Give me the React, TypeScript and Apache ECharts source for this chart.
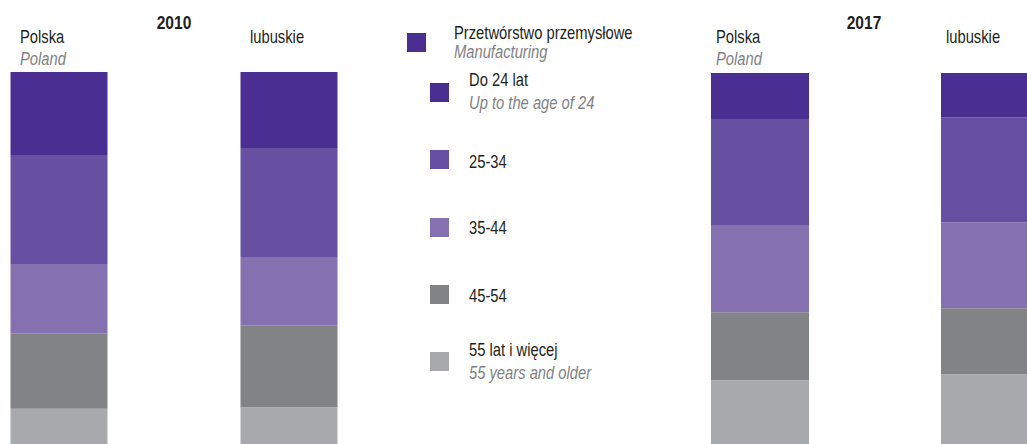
import React, { useEffect, useRef } from "react";
import * as echarts from "echarts";

// Data (percent shares of employment in manufacturing by age group)
const years = ["2010", "2017"];
const regions = ["Polska", "lubuskie"];
const regionsEn = ["Poland", ""];
const sectorTitle = "Przetwórstwo przemysłowe";
const sectorTitleEn = "Manufacturing";
const ageGroups = ["Do 24 lat", "25-34", "35-44", "45-54", "55 lat i więcej"];
const ageGroupsEn = ["Up to the age of 24", "", "", "", "55 years and older"];

// order: [Polska 2010, lubuskie 2010, Polska 2017, lubuskie 2017]
const ageUpTo24 = [22.3, 20.4, 12.4, 11.9];
const age25to34 = [29.3, 29.3, 28.6, 28.3];
const age35to44 = [18.6, 18.4, 23.5, 23.2];
const age45to54 = [20.3, 22.0, 18.3, 17.8];
const age55plus = [9.5, 9.9, 17.2, 18.8];

const ageValues = [ageUpTo24, age25to34, age35to44, age45to54, age55plus];
const colors = ["#4a2e91", "#6750a1", "#8570b0", "#828387", "#a8a9ad"];

const FONT = "'Liberation Sans', Arial, sans-serif";
const TEXT = "#231f20";
const GRAY = "#808285";
const SQUEEZE = 0.82;

export default function App() {
  const ref = useRef<HTMLDivElement>(null);

  useEffect(() => {
    if (!ref.current) return;
    const chart = echarts.init(ref.current, undefined, { renderer: "svg" });

    const grids = [
      { left: -56, top: 72, width: 460, height: 372, outerBoundsMode: "none", containLabel: false },
      { left: 645, top: 73, width: 460, height: 371, outerBoundsMode: "none", containLabel: false },
    ];

    const series: any[] = [];
    years.forEach((yr, gi) => {
      // stack bottom-up: oldest group first
      for (let a = ageGroups.length - 1; a >= 0; a--) {
        series.push({
          type: "bar",
          name: ageGroups[a],
          stack: "s" + yr,
          xAxisIndex: gi,
          yAxisIndex: gi,
          barWidth: gi === 0 ? 97 : 98,
          itemStyle: { color: colors[a] },
          data: [ageValues[a][gi * 2], ageValues[a][gi * 2 + 1]],
        });
      }
    });

    const txt = (
      text: string,
      x: number,
      y: number,
      opts: { size?: number; weight?: string; italic?: boolean; fill?: string; align?: string } = {}
    ) => ({
      type: "text",
      x,
      y,
      scaleX: SQUEEZE,
      silent: true,
      style: {
        text,
        fill: opts.fill || TEXT,
        fontFamily: FONT,
        fontSize: opts.size || 18,
        fontWeight: opts.weight || "normal",
        fontStyle: opts.italic ? "italic" : "normal",
        align: opts.align || "left",
        verticalAlign: "middle",
      },
    });

    const graphics: any[] = [];
    // panel headers
    const panelX = [
      { year: 174, r0: 20, r1: 250 },
      { year: 864, r0: 716, r1: 946 },
    ];
    years.forEach((yr, gi) => {
      const p = panelX[gi];
      graphics.push(txt(yr, p.year, 22, { size: 19, weight: "bold", align: "center" }));
      graphics.push(txt(regions[0], p.r0, 36));
      graphics.push(txt(regionsEn[0], p.r0, 58, { italic: true, fill: GRAY }));
      graphics.push(txt(regions[1], p.r1, 36));
    });

    // legend
    graphics.push({
      type: "rect",
      shape: { x: 407, y: 33, width: 19, height: 19 },
      style: { fill: colors[0] },
      silent: true,
    });
    graphics.push(txt(sectorTitle, 454, 32));
    graphics.push(txt(sectorTitleEn, 454, 51, { italic: true, fill: GRAY }));

    const boxY = [83, 150, 218, 285, 352];
    const labelY = [79, 161, 227, 295, 349];
    ageGroups.forEach((g, i) => {
      graphics.push({
        type: "rect",
        shape: { x: 430, y: boxY[i], width: 19, height: 19 },
        style: { fill: colors[i] },
        silent: true,
      });
      graphics.push(txt(g, 469, labelY[i]));
      if (ageGroupsEn[i]) {
        graphics.push(txt(ageGroupsEn[i], 469, labelY[i] + 23, { italic: true, fill: GRAY }));
      }
    });

    chart.setOption({
      animation: false,
      backgroundColor: "#ffffff",
      grid: grids,
      xAxis: grids.map((_, gi) => ({
        type: "category",
        gridIndex: gi,
        data: regions,
        show: false,
      })),
      yAxis: grids.map((_, gi) => ({
        type: "value",
        gridIndex: gi,
        min: 0,
        max: 100,
        show: false,
      })),
      series,
      graphic: graphics,
    });

    return () => chart.dispose();
  }, []);

  return (
    <div
      ref={ref}
      style={{ position: "fixed", left: 0, top: 0, width: 1027, height: 444, background: "#fff" }}
    />
  );
}
